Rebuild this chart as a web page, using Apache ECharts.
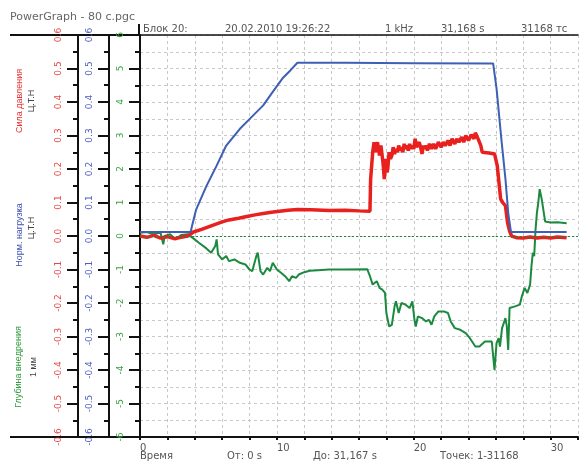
<!DOCTYPE html>
<html><head><meta charset="utf-8">
<script src="https://cdn.jsdelivr.net/npm/echarts@6/dist/echarts.min.js"></script>
<style>html,body{margin:0;padding:0;background:#fff}#c{width:581px;height:461px}</style>
</head><body><div id="c"></div>
<script>
// Time (s), value pairs
const bluePts = [[0,0.012],[3.7,0.012],[3.8,0.03],[4.1,0.079],[4.85,0.149],[5.6,0.21],[6.3,0.27],[7.3,0.32],[8.2,0.357],[9.0,0.39],[9.7,0.43],[10.4,0.47],[11.0,0.495],[11.5,0.517],[15,0.517],[20,0.516],[25.8,0.515],[26.05,0.44],[26.4,0.29],[26.7,0.17],[26.9,0.07],[27.1,0.012],[31.17,0.012]];
const redPts = [[0,0.0],[0.5,-0.004],[1.0,0.002],[1.5,-0.006],[2.0,-0.002],[2.5,-0.008],[3.0,-0.004],[3.5,0.0],[3.9,0.012],[4.5,0.02],[5.3,0.032],[6.0,0.042],[6.5,0.048],[7.2,0.053],[7.8,0.058],[8.4,0.063],[9.0,0.067],[9.6,0.071],[10.2,0.074],[10.8,0.077],[11.5,0.079],[12.5,0.078],[13.8,0.076],[15.0,0.077],[16.0,0.075],[16.8,0.074],[16.85,0.17],[17.0,0.25],[17.1,0.28],[17.2,0.25],[17.35,0.28],[17.5,0.24],[17.6,0.27],[17.75,0.22],[17.85,0.17],[17.95,0.23],[18.05,0.19],[18.1,0.2],[18.2,0.25],[18.3,0.23],[18.4,0.24],[18.5,0.265],[18.6,0.245],[18.7,0.26],[18.8,0.25],[18.9,0.27],[19.0,0.255],[19.1,0.265],[19.2,0.25],[19.3,0.275],[19.4,0.26],[19.5,0.27],[19.6,0.255],[19.7,0.275],[19.8,0.26],[19.9,0.27],[20.0,0.26],[20.1,0.29],[20.2,0.265],[20.3,0.26],[20.4,0.28],[20.5,0.265],[20.6,0.245],[20.7,0.27],[20.8,0.26],[20.9,0.27],[21.0,0.255],[21.15,0.275],[21.3,0.26],[21.45,0.275],[21.6,0.26],[21.8,0.28],[22.0,0.265],[22.15,0.28],[22.3,0.27],[22.5,0.285],[22.65,0.27],[22.8,0.29],[23.0,0.275],[23.15,0.29],[23.3,0.28],[23.5,0.295],[23.65,0.28],[23.8,0.3],[24.0,0.285],[24.2,0.302],[24.4,0.29],[24.5,0.308],[24.7,0.29],[24.9,0.27],[25.0,0.25],[25.5,0.248],[25.9,0.245],[26.1,0.21],[26.2,0.17],[26.35,0.11],[26.5,0.1],[26.7,0.09],[26.85,0.04],[27.0,0.015],[27.15,0.0],[27.5,-0.005],[28.0,-0.006],[28.5,-0.003],[29.0,-0.006],[29.5,-0.004],[30.0,-0.006],[30.5,-0.003],[31.17,-0.005]];
const greenPts = [[0,0.1],[0.5,0.12],[1.0,0.05],[1.5,0.1],[1.7,-0.25],[1.8,0.0],[2.2,0.05],[2.6,-0.1],[3.0,0.03],[3.5,0.05],[3.9,-0.07],[4.3,-0.2],[4.85,-0.37],[5.2,-0.5],[5.5,-0.3],[5.6,-0.1],[5.7,-0.55],[6.0,-0.7],[6.3,-0.6],[6.5,-0.75],[6.9,-0.7],[7.3,-0.8],[7.7,-0.85],[8.0,-1.0],[8.2,-1.05],[8.5,-0.6],[8.6,-0.5],[8.8,-1.05],[9.0,-1.15],[9.3,-0.95],[9.5,-1.05],[9.7,-0.8],[10.0,-1.0],[10.3,-1.1],[10.6,-1.2],[10.9,-1.35],[11.1,-1.2],[11.4,-1.25],[11.6,-1.15],[12.0,-1.08],[12.4,-1.04],[13.0,-1.02],[13.8,-1.0],[15.0,-1.0],[16.6,-0.99],[16.8,-1.2],[17.0,-1.45],[17.3,-1.35],[17.5,-1.55],[17.7,-1.6],[17.9,-1.7],[18.0,-2.3],[18.2,-2.7],[18.4,-2.65],[18.6,-2.1],[18.7,-1.95],[18.9,-2.3],[19.1,-2.0],[19.4,-2.05],[19.7,-2.15],[19.9,-1.95],[20.05,-2.5],[20.15,-2.7],[20.3,-2.4],[20.6,-2.45],[20.9,-2.55],[21.1,-2.5],[21.3,-2.65],[21.5,-2.4],[21.8,-2.25],[22.2,-2.25],[22.5,-2.3],[22.7,-2.55],[23.0,-2.75],[23.4,-2.8],[23.8,-2.9],[24.1,-3.05],[24.5,-3.3],[24.8,-3.3],[25.2,-3.15],[25.7,-3.15],[25.9,-4.0],[26.05,-3.2],[26.2,-3.05],[26.3,-3.3],[26.45,-2.75],[26.7,-2.45],[26.8,-2.7],[26.9,-3.4],[27.0,-2.15],[27.4,-2.1],[27.75,-2.05],[27.9,-1.8],[28.1,-1.55],[28.3,-1.7],[28.5,-1.45],[28.6,-0.9],[28.7,-0.5],[28.8,-0.6],[28.9,0.2],[29.0,0.7],[29.1,1.0],[29.2,1.4],[29.35,1.1],[29.5,0.7],[29.6,0.43],[30.0,0.4],[30.5,0.41],[31.17,0.38]];

const xLabels = [0, 10, 20, 30];
const headerTitle = 'PowerGraph - 80 с.pgc';
const headerItems = ['Блок 20:', '20.02.2010 19:26:22', '1 kHz', '31,168 s', '31168 тс'];
const footerItems = ['Время', 'От: 0 s', 'До: 31,167 s', 'Точек: 1-31168'];
const axisTitles = [
  {name: 'Сила давления', unit: 'Ц.Т.Н', color: '#e83030'},
  {name: 'Норм. нагрузка', unit: 'Ц.Т.Н', color: '#3a4fb0'},
  {name: 'Глубина внедрения', unit: '1 мм', color: '#2f9a3a'}
];

const RED = '#e8201e', BLUE = '#3d5fb4', GREEN = '#1b8a3e';
const font = 'DejaVu Sans';

function yAx(min, max, interval, offset, color, fmt, split) {
  return {
    type: 'value', position: 'left', min, max, interval, offset,
    axisLine: {show: true, onZero: false, lineStyle: {color: '#111', width: 2}},
    axisTick: {show: true, inside: false, length: 11, lineStyle: {color: '#111', width: 2}},
    minorTick: {show: true, splitNumber: 2, length: 5, lineStyle: {color: '#111', width: 2}},
    axisLabel: {rotate: 90, margin: 15, color, fontSize: 9, fontFamily: font, formatter: fmt, showMinLabel: true, showMaxLabel: true},
    splitLine: {show: split, lineStyle: {color: '#c8c8c8', type: [3, 3], width: 1}},
    minorSplitLine: {show: split, lineStyle: {color: '#c8c8c8', type: [3, 3], width: 1}}
  };
}

const chart = echarts.init(document.getElementById('c'), null, {renderer: 'canvas'});
const graphics = [
  {type: 'text', x: 10, y: 17, style: {text: headerTitle, fill: '#666', font: '11px ' + font, verticalAlign: 'middle'}},
  {type: 'line', shape: {x1: 10, y1: 35, x2: 140, y2: 35}, style: {stroke: '#111', lineWidth: 2}},
  {type: 'line', shape: {x1: 10, y1: 437, x2: 140, y2: 437}, style: {stroke: '#111', lineWidth: 2}},
  {type: 'line', shape: {x1: 139, y1: 24, x2: 139, y2: 35}, style: {stroke: '#111', lineWidth: 2}}
];
const hx = [143, 225, 385, 441, 521];
headerItems.forEach((t, i) => graphics.push({type: 'text', x: hx[i], y: 29, style: {text: t, fill: '#555', font: '10px ' + font, verticalAlign: 'middle'}}));
const fx = [140, 227, 313, 440];
footerItems.forEach((t, i) => graphics.push({type: 'text', x: fx[i], y: 456, style: {text: t, fill: '#555', font: '10px ' + font, verticalAlign: 'middle'}}));
const tpos = [[20, 101, 32, 101], [20, 235, 32, 228], [19, 367, 34, 367]];
axisTitles.forEach((a, i) => {
  graphics.push({type: 'text', x: tpos[i][0], y: tpos[i][1], rotation: Math.PI / 2, style: {text: a.name, fill: a.color, font: '9px Liberation Sans', align: 'center', verticalAlign: 'middle'}});
  graphics.push({type: 'text', x: tpos[i][2], y: tpos[i][3], rotation: Math.PI / 2, style: {text: a.unit, fill: '#444', font: '9px Liberation Sans', align: 'center', verticalAlign: 'middle'}});
});

chart.setOption({
  animation: false,
  backgroundColor: '#fff',
  grid: {left: 140, right: 0, top: 35, bottom: 24, containLabel: false},
  xAxis: [{
    type: 'value', min: 0, max: 32, interval: 2,
    axisLine: {onZero: false, lineStyle: {color: '#111', width: 2}},
    axisTick: {show: true, length: 3, lineStyle: {color: '#111', width: 2}},
    axisLabel: {color: '#555', fontSize: 10, fontFamily: font, align: 'left', margin: 6,
      formatter: v => xLabels.indexOf(v) >= 0 ? String(v) : ''},
    splitLine: {show: true, lineStyle: {color: '#c8c8c8', type: [3, 3], width: 1}}
  }, {
    type: 'value', position: 'top', min: 0, max: 32,
    axisLine: {show: true, onZero: false, lineStyle: {color: '#111', width: 1.5}},
    axisTick: {show: false}, axisLabel: {show: false}, splitLine: {show: false}
  }],
  yAxis: [
    yAx(-6, 6, 1, 0, '#3aa040', v => String(v), true),
    yAx(-0.6, 0.6, 0.1, 31, '#5060c0', v => v.toFixed(1), false),
    yAx(-0.6, 0.6, 0.1, 62, '#e84848', v => v.toFixed(1), false)
  ],
  graphic: graphics,
  series: [
    {type: 'line', name: 'Глубина', yAxisIndex: 0, data: greenPts, showSymbol: false, lineStyle: {color: GREEN, width: 2}, z: 3,
      markLine: {silent: true, symbol: 'none', label: {show: false}, lineStyle: {color: '#1b8a3e', type: [2, 2], width: 1}, data: [{yAxis: 0}]}},
    {type: 'line', name: 'Сила', yAxisIndex: 2, data: redPts, showSymbol: false, lineStyle: {color: RED, width: 3.5}, z: 4},
    {type: 'line', name: 'Нагрузка', yAxisIndex: 1, data: bluePts, showSymbol: false, lineStyle: {color: BLUE, width: 2}, z: 5}
  ]
});
</script></body></html>
